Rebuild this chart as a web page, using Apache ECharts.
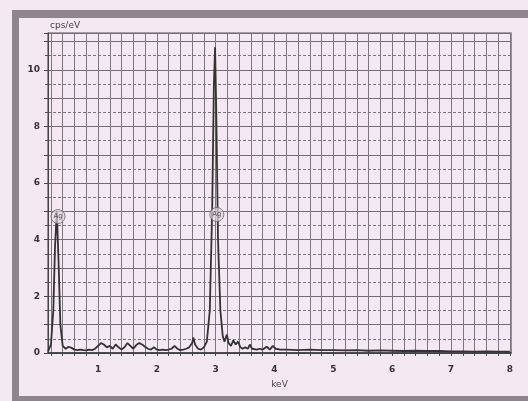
<!DOCTYPE html>
<html>
<head>
<meta charset="utf-8">
<script src="https://cdn.jsdelivr.net/npm/echarts@6/dist/echarts.min.js"></script>
<style>
html,body{margin:0;padding:0;background:#f4e8f2;}
#c{width:528px;height:401px;}
</style>
</head>
<body>
<div id="c"></div>
<script>
// Spectrum: energy (keV) and counts (cps/eV)
const energy = [0.15,0.20,0.24,0.27,0.30,0.33,0.36,0.40,0.45,0.50,0.55,0.60,0.65,0.70,0.75,0.80,0.85,0.90,0.95,1.00,1.05,1.10,1.15,1.20,1.25,1.30,1.35,1.40,1.45,1.50,1.55,1.60,1.65,1.70,1.75,1.80,1.85,1.90,1.95,2.00,2.05,2.10,2.15,2.20,2.25,2.30,2.35,2.40,2.45,2.50,2.55,2.60,2.62,2.65,2.70,2.75,2.80,2.85,2.90,2.94,2.97,2.99,3.01,3.04,3.08,3.12,3.15,3.19,3.22,3.26,3.30,3.34,3.38,3.42,3.46,3.50,3.55,3.58,3.62,3.70,3.75,3.80,3.87,3.92,3.97,4.02,4.10,4.20,4.40,4.60,4.80,5.00,5.20,5.40,5.60,5.80,6.00,6.20,6.40,6.60,6.80,7.00,7.20,7.40,7.60,7.80,8.00];
const counts = [0.05,0.3,1.5,3.8,5.0,3.2,1.0,0.25,0.15,0.22,0.18,0.12,0.1,0.12,0.1,0.09,0.12,0.1,0.15,0.25,0.35,0.3,0.2,0.25,0.15,0.3,0.2,0.12,0.2,0.35,0.25,0.15,0.28,0.35,0.3,0.22,0.15,0.12,0.2,0.12,0.1,0.12,0.1,0.12,0.15,0.25,0.15,0.1,0.12,0.15,0.2,0.35,0.55,0.3,0.15,0.12,0.2,0.4,1.5,5.0,9.5,10.8,8.5,4.0,1.5,0.6,0.4,0.65,0.35,0.25,0.45,0.3,0.4,0.2,0.15,0.2,0.15,0.3,0.15,0.12,0.15,0.12,0.22,0.12,0.25,0.15,0.12,0.12,0.1,0.12,0.1,0.1,0.09,0.1,0.08,0.09,0.08,0.07,0.08,0.07,0.07,0.06,0.06,0.05,0.06,0.05,0.05];
// Peak identification labels
const peakLabels = ['Ag','Ag'];
const peakEnergy = [0.32,3.02];
const peakLabelY = [4.82,4.89];
// Axis ticks
const xTickLabels = [1,2,3,4,5,6,7,8];
const xGridValues = [0.2,0.4,0.6,0.8,1.0,1.2,1.4,1.6,1.8,2.0,2.2,2.4,2.6,2.8,3.0,3.2,3.4,3.6,3.8,4.0,4.2,4.4,4.6,4.8,5.0,5.2,5.4,5.6,5.8,6.0,6.2,6.4,6.6,6.8,7.0,7.2,7.4,7.6,7.8,8.0];
const yTickLabels = [0,2,4,6,8,10];

const chart = echarts.init(document.getElementById('c'), null, {renderer:'canvas'});
const font = 'DejaVu Sans';
chart.setOption({
  backgroundColor: '#f4e8f2',
  animation: false,
  grid: {left:48, right:17, top:33, bottom:48, show:true, borderColor:'#555', borderWidth:1.2, backgroundColor:'transparent'},
  graphic: [
    {type:'rect', shape:{x:12,y:10,width:516,height:8}, style:{fill:'#8e868c'}, z:-1},
    {type:'rect', shape:{x:12,y:10,width:7,height:391}, style:{fill:'#8e868c'}, z:-1},
    {type:'rect', shape:{x:12,y:396,width:516,height:5}, style:{fill:'#8e868c'}, z:-1}
  ],
  xAxis: {
    type:'value', min:0.15, max:8.02,
    name:'keV', nameLocation:'middle', nameGap:27,
    nameTextStyle:{fontFamily:font, fontSize:9, color:'#444'},
    axisLine:{show:true, onZero:false, lineStyle:{color:'#333', width:1.5}},
    axisTick:{show:true, customValues:xGridValues, length:3, lineStyle:{color:'#444'}},
    axisLabel:{customValues:xTickLabels, margin:12, fontFamily:font, fontSize:9, color:'#333', fontWeight:'bold'},
    splitLine:{show:true, lineStyle:{color:'#7d7680', width:1}}
  },
  yAxis: {
    type:'value', min:0, max:11.3, interval:1,
    name:'cps/eV', nameLocation:'end', nameGap:3,
    nameTextStyle:{fontFamily:font, fontSize:9, color:'#444', align:'left', padding:[0,0,0,2]},
    axisLine:{show:true, lineStyle:{color:'#444'}},
    axisTick:{show:true, length:4, lineStyle:{color:'#444'}},
    minorTick:{show:true, splitNumber:2, length:3, lineStyle:{color:'#555'}},
    axisLabel:{customValues:yTickLabels, margin:8, fontFamily:font, fontSize:9, color:'#333', fontWeight:'bold'},
    splitLine:{show:true, lineStyle:{color:'#736c77', width:1}},
    minorSplitLine:{show:true, lineStyle:{color:'#7d7680', width:1, type:[3,2]}}
  },
  series: [
    {
      type:'line', data: energy.map((e,i)=>[e,counts[i]]),
      showSymbol:false, smooth:false,
      lineStyle:{color:'#333', width:1.8},
      z:3
    },
    {
      type:'scatter', data: peakEnergy.map((e,i)=>[e,peakLabelY[i]]),
      symbol:'circle', symbolSize:14,
      itemStyle:{color:'rgba(225,215,225,0.85)', borderColor:'#666', borderWidth:1},
      label:{show:true, position:'inside', formatter:(p)=>peakLabels[p.dataIndex], fontFamily:font, fontSize:7, color:'#333'},
      z:4
    }
  ]
});
</script>
</body>
</html>
